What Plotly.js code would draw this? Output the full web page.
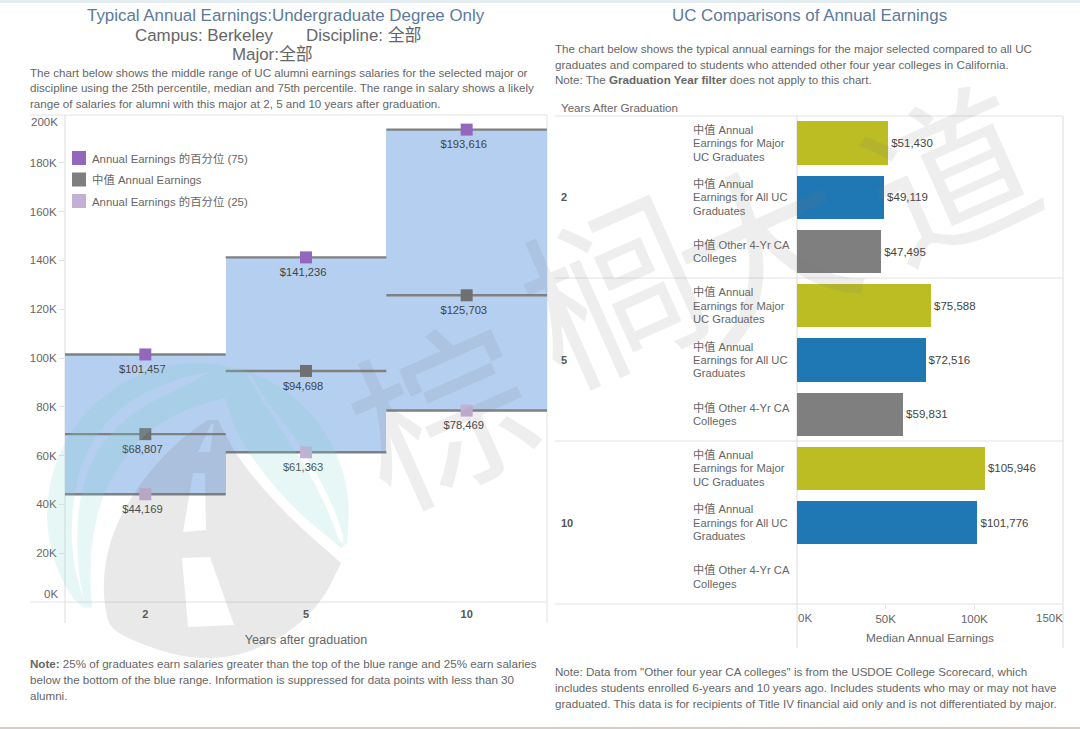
<!DOCTYPE html>
<html><head><meta charset="utf-8">
<script src="https://cdn.plot.ly/plotly-3.0.1.min.js"></script>
<style>html,body{margin:0;padding:0;background:#fff}#c{width:1080px;height:729px}</style></head>
<body><div id="c"></div>
<script>
// ---- data
const years = ['2','5','10'];
const p75 = [101457,141236,193616];
const median = [68807,94698,125703];
const p25 = [44169,61363,78469];
const legendLabels = ['Annual Earnings 的百分位 (75)','中值 Annual Earnings','Annual Earnings 的百分位 (25)'];
const leftTicks = [20000,40000,60000,80000,100000,120000,140000,160000,180000];
const leftTickText = ['20K','40K','60K','80K','100K','120K','140K','160K','180K'];
const cmpLabels = [['中值 Annual','Earnings for Major','UC Graduates'],['中值 Annual','Earnings for All UC','Graduates'],['中值 Other 4-Yr CA','Colleges']];
const cmpMajor = [51430,75588,105946];
const cmpAll = [49119,72516,101776];
const cmpOther = [47495,59831,null];
const rightTicks = [50000,100000];
const rightTickText = ['50K','100K'];

// ---- style
const FF = '"Liberation Sans","Noto Sans CJK SC",sans-serif';
const cPurple='#9467bd', cGray='#7f7f7f', cLilac='#c5b0d5', cBand='#b4cff0';
const cOlive='#bcbd22', cBlue='#1f77b4';
const W=1080,H=729;
const px=x=>x/W, py=y=>1-y/H;
const ann=[], shp=[];
function T(text,x,y,size,color,o){
  o=o||{};
  const dx=(o.xanchor==='center')?0:(o.xanchor==='right'?2:-2);
  ann.push(Object.assign({text,x:px(x+dx),y:py(y),xref:'paper',yref:'paper',xanchor:'left',yanchor:'middle',showarrow:false,align:'left',font:{family:FF,size,color}},o));}
function L(x0,y0,x1,y1,color,width){shp.push({type:'line',xref:'paper',yref:'paper',x0:px(x0),y0:py(y0),x1:px(x1),y1:py(y1),layer:'below',line:{color:color||'#e2e2e2',width:width||1}});}

// frame strips
shp.push({type:'rect',xref:'paper',yref:'paper',x0:0,x1:1,y0:py(3),y1:1,fillcolor:'#e4eef1',line:{width:0},layer:'below'});
L(0,728,1080,728,'#c9bdb4',1.5);

// left panel rules
L(30,115,547,115);L(30,602,547,602);L(65,115,65,623,'#dcdcdc');L(547,115,547,623);
// right panel rules
L(555,116,1063,116);L(555,278,1063,278);L(555,441,1063,441);L(555,604,1063,604);
L(797,116,797,648,'#dcdcdc');L(1063,116,1063,648,'#dcdcdc');

// texts
const titleBlue='#5b7a9c', titleGray='#666666', bodyGray='#666666';
T('Typical Annual Earnings:Undergraduate Degree Only',285.5,16,16.9,titleBlue,{xanchor:'center'});
T('Campus: Berkeley',135,35,16.9,titleGray);
T('Discipline: 全部',306,35,16.9,titleGray);
T('Major:全部',272,54.5,16.9,titleGray,{xanchor:'center'});
['The chart below shows the middle range of UC alumni earnings salaries for the selected major or',
 'discipline using the 25th percentile, median and 75th percentile. The range in salary shows a likely',
 'range of salaries for alumni with this major at 2, 5 and 10 years after graduation.'
].forEach((s,i)=>T(s,30,72+i*16,11.6,bodyGray));
['<b>Note:</b> 25% of graduates earn salaries greater than the top of the blue range and 25% earn salaries',
 'below the bottom of the blue range. Information is suppressed for data points with less than 30',
 'alumni.'
].forEach((s,i)=>T(s,30,663.5+i*16,11.6,bodyGray));
T('UC Comparisons of Annual Earnings',809.5,15.5,16.9,titleBlue,{xanchor:'center'});
['The chart below shows the typical annual earnings for the major selected compared to all UC',
 'graduates and compared to students who attended other four year colleges in California.',
 'Note: The <b>Graduation Year filter</b> does not apply to this chart.'
].forEach((s,i)=>T(s,555,48+i*16,11.6,bodyGray));
['Note: Data from "Other four year CA colleges" is from the USDOE College Scorecard, which',
 'includes students enrolled 6-years and 10 years ago. Includes students who may or may not have',
 'graduated. This data is for recipients of Title IV financial aid only and is not differentiated by major.'
].forEach((s,i)=>T(s,555,671+i*16,11.6,bodyGray));
T('Years After Graduation',561,107.5,11.6,'#666');
// left shifted end ticks
T('200K',58,122,11.5,'#666',{xanchor:'right'});
T('0K',58,594,11.5,'#666',{xanchor:'right'});
// right end ticks
T('0K',797.5,618,11.5,'#666');
T('150K',1063,618,11.5,'#666',{xanchor:'right'});

// legend
[cPurple,cGray,cLilac].forEach((c,i)=>{
  const y=158+i*21.5;
  shp.push({type:'rect',xref:'paper',yref:'paper',x0:px(72),x1:px(86),y0:py(y-7),y1:py(y+7),fillcolor:c,line:{width:0},layer:'below'});
  T(legendLabels[i],92,y+0.5,11.4,'#666');
});

// right panel row labels
const rowIdx=[];
years.forEach((yr,g)=>{
  T('<b>'+yr+'</b>',561,[197,359.5,522.5][g],11,'#555');
  cmpLabels.forEach((lines,k)=>{
    const r=g*3+k; rowIdx.push(r);
    lines.forEach((s,j)=>{
      ann.push({text:s,x:px(691),xref:'paper',y:r,yref:'y2',yshift:(((lines.length-1)/2-j)*13.4),xanchor:'left',yanchor:'middle',showarrow:false,align:'left',font:{family:FF,size:11.2,color:'#666'}});
    });
  });
});
const cmpValues=[], cmpColors=[];
years.forEach((yr,g)=>{cmpValues.push(cmpMajor[g],cmpAll[g],cmpOther[g]);cmpColors.push(cOlive,cBlue,cGray);});

// watermark: logo (page-pixel outlines of the decoration, not data)
function poly(pts){return pts.map((p,i)=>(i?'L':'M')+px(p[0])+','+py(p[1])).join(' ')+' Z ';}
function smooth(pts){
  const n=pts.length, mid=(a,b)=>[(a[0]+b[0])/2,(a[1]+b[1])/2];
  const s=mid(pts[n-1],pts[0]);
  let d='M'+px(s[0])+','+py(s[1]);
  for(let i=0;i<n;i++){const m=mid(pts[i],pts[(i+1)%n]);d+=' Q'+px(pts[i][0])+','+py(pts[i][1])+' '+px(m[0])+','+py(m[1]);}
  return d+' Z ';
}
const teal=[[85,608],[85,608]];
for(let a=145;a<=366;a+=6){const t=a*Math.PI/180;teal.push([198+151*Math.cos(t),514+151*Math.sin(t)]);}
teal.push([347,543],[347,543],[341,548],[341,548],[295,510],[258,467],[235,430],[225,398],[225,398],[190,407],[153,427],[127,453],[103,493],[92,537],[90,577],[92,607],[92,607]);
const tealArcL=[[210,372],[183,377],[137,395],[100,427],[78,470],[71,520],[73,563],[84,602],[84,602],[78,570],[77,523],[83,480],[103,440],[140,407],[187,385],[210,372]];
const tealArcR=[[245,373],[270,413],[295,450],[315,483],[332,520],[340,544],[345,541],[335,510],[315,470],[292,433],[265,400],[252,375]];
shp.push({type:'path',path:smooth(teal)+smooth(tealArcL)+smooth(tealArcR),fillrule:'evenodd',xref:'paper',yref:'paper',fillcolor:'rgba(120,210,200,0.18)',line:{width:0},layer:'above'});
const gray=[[218,420],[218,420],[235,453],[258,483],[292,520],[341,563],[341,563],[323,600],[293,630],[260,648],[227,658],[190,658],[157,650],[113,632],[105,613],[103,577],[110,540],[127,503],[153,467],[183,437],[208,420],[208,420]];
const road1=[[182,558],[210,557],[234,625],[188,627]];
const road2=[[193,473],[205,473],[206,530],[183,532]];
const road3=[[211,424],[214,424],[210,452],[198,452]];
shp.push({type:'path',path:smooth(gray)+poly(road1)+poly(road2)+poly(road3),fillrule:'evenodd',xref:'paper',yref:'paper',fillcolor:'rgba(120,120,120,0.16)',line:{width:0},layer:'above'});
// watermark: text
[['棕',445,420,176],['榈',615,298,176],['大',766,254,176],['道',952,180,165]].forEach(c=>{
  T(c[0],c[1],c[2],c[3],'rgba(120,120,120,0.13)',{xanchor:'center',textangle:-24});
});

// ---- traces
const xi=[0,1,2];
const labelNudge=0.018;
function pts(vals,color){return {type:'scatter',mode:'markers',x:xi,y:vals,xaxis:'x',yaxis:'y',hoverinfo:'skip',
  marker:{symbol:'square',size:12,color},
  error_x:{type:'constant',value:0.5,thickness:2.4,width:0,color:'#808080'}};}
function lbl(vals){return {type:'scatter',mode:'markers+text',x:xi.map(v=>v-labelNudge),y:vals,xaxis:'x',yaxis:'y',hoverinfo:'skip',
  marker:{symbol:'square',size:15,opacity:0},
  texttemplate:'$%{y:,.0f}',textposition:'bottom center',textfont:{family:FF,size:11.2,color:'#444'},cliponaxis:false};}
const traces=[
 {type:'bar',x:xi,y:p75.map((v,i)=>v-p25[i]),base:p25,width:1,xaxis:'x',yaxis:'y',marker:{color:cBand,line:{width:0}},hoverinfo:'skip'},
 pts(p75,cPurple),pts(median,'#707070'),pts(p25,cLilac),
 lbl(p75),lbl(median),lbl(p25),
 {type:'bar',orientation:'h',y:rowIdx,x:cmpValues,width:0.8,xaxis:'x2',yaxis:'y2',
  marker:{color:cmpColors,line:{width:0}},texttemplate:'$%{x:,.0f}',textposition:'outside',cliponaxis:false,
  textfont:{family:FF,size:11.5,color:'#444'},hoverinfo:'skip'}
];
const tick={family:FF,size:11.5,color:'#666'};
const layout={
 width:W,height:H,margin:{l:0,r:0,t:0,b:0},paper_bgcolor:'#fff',plot_bgcolor:'rgba(0,0,0,0)',showlegend:false,
 font:{family:FF},annotations:ann,shapes:shp,bargap:0,
 xaxis:{domain:[px(65),px(547)],range:[-0.5,2.5],anchor:'y',tickmode:'array',tickvals:xi,ticktext:years.map(y=>'<b>'+y+'</b>'),
   showgrid:false,zeroline:false,showline:false,ticks:'',tickfont:{family:FF,size:11,color:'#555'},ticklabelstandoff:4,
   title:{text:'Years after graduation\u00a0\u00a0\u00a0\u00a0',font:{family:FF,size:12.5,color:'#666'},standoff:16}},
 yaxis:{domain:[py(602),py(115)],range:[0,199600],anchor:'x',tickmode:'array',tickvals:leftTicks,ticktext:leftTickText,
   showgrid:false,zeroline:false,showline:false,ticks:'outside',ticklen:5,tickcolor:'#e2e2e2',tickfont:tick},
 xaxis2:{domain:[px(797),px(1063)],range:[0,150000],anchor:'y2',tickmode:'array',tickvals:rightTicks,ticktext:rightTickText,
   showgrid:false,zeroline:false,showline:false,ticks:'outside',ticklen:4,tickcolor:'#e2e2e2',tickfont:tick,
   title:{text:'Median Annual Earnings',font:{family:FF,size:11.8,color:'#666'},standoff:9}},
 yaxis2:{domain:[py(604),py(116)],range:[8.5,-0.5],anchor:'x2',showticklabels:false,showgrid:false,zeroline:false,showline:false,ticks:''}
};
Plotly.newPlot('c',traces,layout,{displayModeBar:false,staticPlot:true});
</script></body></html>
